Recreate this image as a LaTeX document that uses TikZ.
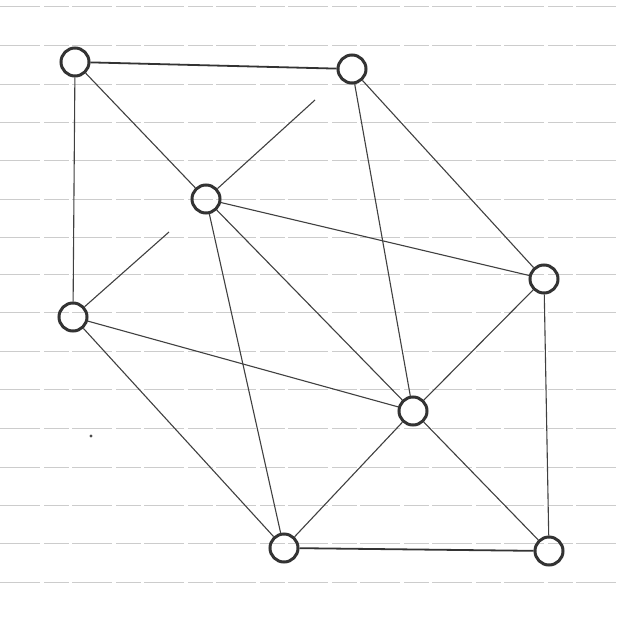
\documentclass[tikz,border=0pt]{standalone}
\usepackage{tikz}

\begin{document}
\begin{tikzpicture}[x=1pt,y=-1pt,
    vtx/.style={circle, draw=black!80, line width=3pt, minimum size=28pt, inner sep=0pt},
    edge/.style={draw=black!75, line width=1.1pt},
    heavy/.style={draw=black!80, line width=1.8pt},
    rule/.style={draw=black!20, line width=0.9pt, dash pattern=on 40pt off 4pt on 25pt off 3pt}]
  \useasboundingbox (0,0) rectangle (619,621);
  \fill[white] (0,0) rectangle (619,621);
  % ruled paper
  \foreach \y in {6,45,84,122,160,199,237,274,312,351,389,428,467,505,543,582}
    \draw[rule] (0,\y) -- (619,\y);
  \fill[black!70] (91,436) circle (1.6pt);

  \node[vtx] (a) at (75,62) {};
  \node[vtx] (b) at (352,69) {};
  \node[vtx] (c) at (206,199) {};
  \node[vtx] (d) at (544,279) {};
  \node[vtx] (e) at (73,317) {};
  \node[vtx] (f) at (413,411) {};
  \node[vtx] (g) at (284,548) {};
  \node[vtx] (h) at (549,551) {};
  \coordinate (c1) at (315,100);
  \coordinate (e1) at (169,232);

  \draw[heavy] (a) -- (b);
  \draw[heavy] (g) -- (h);
  \draw[edge] (a) -- (c);
  \draw[edge] (a) -- (e);
  \draw[edge] (b) -- (f);
  \draw[edge] (b) -- (d);
  \draw[edge] (c) -- (g);
  \draw[edge] (c) -- (f);
  \draw[edge] (c) -- (d);
  \draw[edge] (c) -- (c1);
  \draw[edge] (e) -- (e1);
  \draw[edge] (e) -- (f);
  \draw[edge] (e) -- (g);
  \draw[edge] (f) -- (d);
  \draw[edge] (f) -- (g);
  \draw[edge] (f) -- (h);
  \draw[edge] (d) -- (h);
\end{tikzpicture}
\end{document}
